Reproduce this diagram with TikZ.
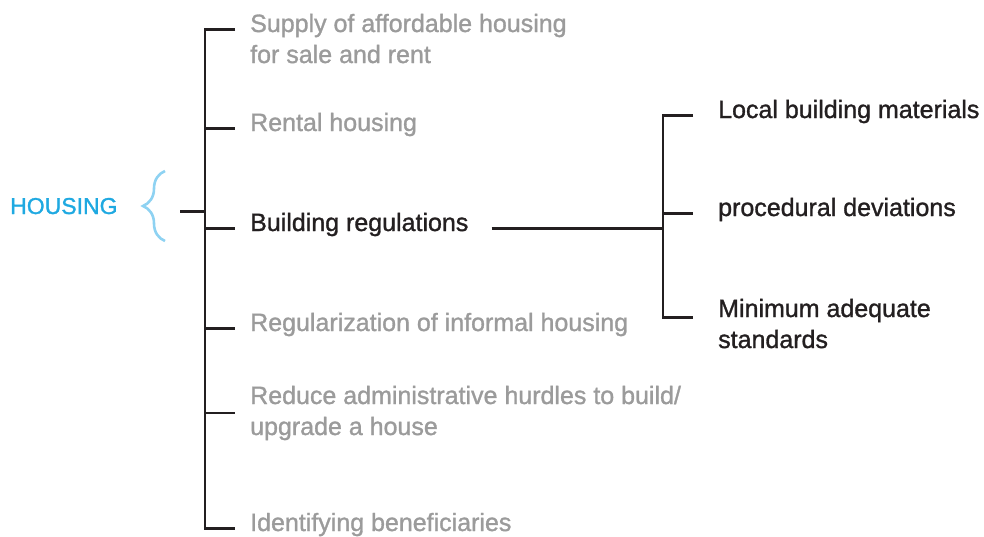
\documentclass[tikz,border=0pt]{standalone}
\usepackage{fontspec}
\setmainfont{Liberation Sans}
\newfontfamily\labelfont{Liberation Sans}[UprightFeatures={FakeBold=1.2}]
\usetikzlibrary{decorations.pathreplacing}

\definecolor{inkblack}{HTML}{231F20}
\definecolor{subgray}{HTML}{9B9B9B}
\definecolor{headblue}{HTML}{1FA9E1}
\definecolor{braceblue}{HTML}{8ED2F2}

\begin{document}
\begin{tikzpicture}[x=1pt,y=-1pt,
  tree/.style={draw=inkblack,line width=2.4pt},
  item/.style={anchor=base west,inner sep=0pt,align=left,text=subgray,
    font=\labelfont\fontsize{25}{31}\selectfont},
  key/.style={item,text=inkblack}]
  \useasboundingbox (0,0) rectangle (984,536);

  \coordinate (stem) at (180,0);
  \coordinate (spine) at (205,0);
  \coordinate (rspine) at (663,0);

  \node[item,text=headblue,font=\labelfont\fontsize{23}{28}\selectfont] (housing) at (10,214) {HOUSING};
  \coordinate (bracelow) at (165,241);
  \coordinate (bracehigh) at (165,171);
  \draw[braceblue,line width=2.6pt,decorate,decoration={brace,amplitude=22pt}] (bracelow) -- (bracehigh);

  % first level (base = last line)
  \node[item] (supply) at (250,63) {Supply of affordable housing\\for sale and rent};
  \node[item] (rental) at (250,131) {Rental housing};
  \node[key] (building) at (250,231) {Building regulations};
  \node[item] (regular) at (250,331) {Regularization of informal housing};
  \node[item] (reduce) at (250,435) {Reduce administrative hurdles to build/\\upgrade a house};
  \node[item] (ident) at (250,531) {Identifying beneficiaries};

  \draw[tree] (housing.mid east -| stem) -- (housing.mid east -| spine);
  \draw[tree] ([xshift=-15pt,yshift=31pt]supply.mid west) -- ([yshift=31pt]supply.mid west -| spine)
    -- (ident.mid west -| spine) -- ([xshift=-15pt]ident.mid west);
  \draw[tree] (rental.mid west -| spine) -- ([xshift=-15pt]rental.mid west);
  \draw[tree] (building.mid west -| spine) -- ([xshift=-15pt]building.mid west);
  \draw[tree] (regular.mid west -| spine) -- ([xshift=-15pt]regular.mid west);
  \draw[tree] (reduce.west -| spine) -- ([xshift=-15pt]reduce.west);

  % second level
  \node[key] (local) at (718,118) {Local building materials};
  \node[key] (proc) at (718,216) {procedural deviations};
  \node[key] (minimum) at (718,348) {Minimum adequate\\standards};

  \draw[tree] ([xshift=23pt]building.mid east) -- (building.mid east -| rspine);
  \draw[tree] ([xshift=-25pt]local.mid west) -- (local.mid west -| rspine)
    -- ([yshift=28pt]minimum.mid west -| rspine) -- ([xshift=-25pt,yshift=28pt]minimum.mid west);
  \draw[tree] (proc.mid west -| rspine) -- ([xshift=-25pt]proc.mid west);
\end{tikzpicture}
\end{document}
